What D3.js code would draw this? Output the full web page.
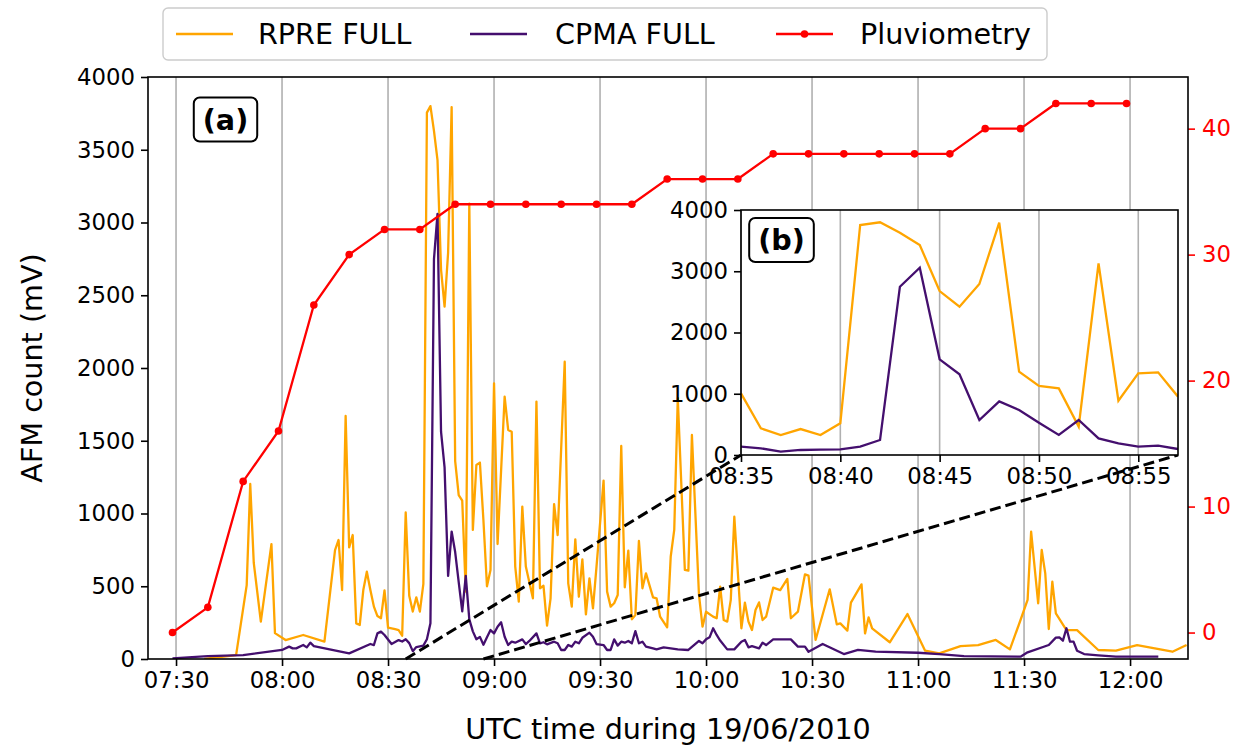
<!DOCTYPE html>
<html>
<head>
<meta charset="utf-8">
<script src="https://cdn.jsdelivr.net/npm/d3@7"></script>
<style>
html,body{margin:0;padding:0;background:#fff;}
svg{display:block;font-family:"DejaVu Sans",sans-serif;}
</style>
</head>
<body>
<svg id="chart" width="1252" height="747"></svg>
<script>
// ---------------- DATA ----------------
const rpreTimes = ["07:38","07:47","07:50","07:51","07:52","07:54","07:57","07:58","08:01","08:06","08:12","08:15","08:16","08:17","08:18","08:19","08:20","08:21","08:22","08:23","08:24","08:25","08:26","08:27","08:28","08:29","08:30","08:32","08:33","08:34","08:35","08:36","08:37","08:38","08:39","08:40","08:41","08:42","08:43","08:44","08:45","08:46","08:47","08:48","08:49","08:50","08:51","08:52","08:53","08:54","08:55","08:56","08:57","08:58","08:59","09:00","09:01","09:03","09:04","09:05","09:06","09:07","09:08","09:09","09:11","09:12","09:13","09:14","09:15","09:16","09:17","09:18","09:20","09:21","09:22","09:23","09:24","09:25","09:26","09:27","09:28","09:29","09:31","09:32","09:33","09:34","09:35","09:36","09:37","09:38","09:39","09:40","09:41","09:42","09:43","09:45","09:46","09:47","09:49","09:50","09:51","09:52","09:54","09:55","09:56","09:58","09:59","10:00","10:02","10:03","10:04","10:05","10:06","10:07","10:08","10:10","10:11","10:12","10:13","10:14","10:15","10:16","10:17","10:19","10:21","10:23","10:24","10:26","10:28","10:29","10:31","10:35","10:37","10:38","10:40","10:41","10:44","10:45","10:46","10:47","10:52","10:57","11:02","11:06","11:12","11:17","11:22","11:26","11:29","11:31","11:32","11:34","11:35","11:36","11:37","11:38","11:39","11:42","11:45","11:51","11:56","12:02","12:07","12:12","12:16"];
const rpreValues = [0,27,508,1203,660,257,790,178,130,165,119,749,818,474,1670,767,852,245,234,474,600,474,360,295,280,471,215,205,199,160,1007,435,326,424,326,517,3755,3800,3630,3428,2677,2422,2792,3793,1360,1127,1088,463,3129,887,1333,1350,952,500,612,1895,790,1803,1574,1562,635,394,1047,635,417,1769,486,503,229,417,1065,852,2043,520,360,822,428,685,307,554,348,635,1226,463,360,383,440,1464,493,745,273,302,811,486,589,424,417,291,218,703,887,1792,612,607,1540,440,222,325,291,280,497,268,257,406,978,211,387,257,199,337,389,268,291,490,474,550,280,325,582,573,131,479,238,245,195,387,513,176,286,211,115,309,57,39,89,96,131,66,268,406,875,383,749,589,206,531,314,199,199,62,57,96,73,50,96];

const cpmaTimes = ["07:29","07:39","07:49","08:00","08:02","08:03","08:04","08:06","08:07","08:08","08:09","08:19","08:25","08:26","08:27","08:28","08:29","08:31","08:33","08:34","08:35","08:36","08:37","08:38","08:39","08:40","08:41","08:42","08:43","08:44","08:45","08:46","08:47","08:48","08:49","08:50","08:51","08:52","08:53","08:54","08:55","08:56","08:57","08:58","08:59","09:00","09:01","09:02","09:03","09:04","09:05","09:06","09:08","09:09","09:10","09:12","09:13","09:14","09:15","09:17","09:18","09:19","09:20","09:21","09:22","09:23","09:24","09:25","09:27","09:28","09:29","09:31","09:32","09:33","09:34","09:35","09:36","09:37","09:38","09:39","09:40","09:41","09:42","09:43","09:45","09:46","09:48","09:52","09:55","09:58","09:59","10:00","10:01","10:02","10:03","10:04","10:06","10:08","10:10","10:11","10:12","10:13","10:15","10:16","10:17","10:19","10:24","10:26","10:28","10:29","10:33","10:39","10:43","10:48","11:00","11:06","11:13","11:29","11:31","11:37","11:39","11:40","11:41","11:42","11:43","11:44","11:45","11:47","11:51","11:56","12:08"];
const cpmaValues = [5,20,27,62,85,73,73,96,80,112,89,39,103,96,176,188,165,103,130,120,136,109,54,82,87,92,136,245,2748,3059,1562,1317,571,876,735,528,327,571,272,190,136,152,98,150,199,176,222,252,153,96,119,112,135,103,124,176,108,115,101,119,108,62,62,96,85,119,108,146,181,153,103,96,62,62,135,92,119,112,124,108,192,108,119,85,73,66,80,66,62,124,108,135,149,211,165,127,66,66,119,131,80,89,73,112,96,135,135,85,85,50,103,34,62,50,43,34,20,16,46,96,147,149,126,211,119,119,57,34,25,16,16];

const pluvioTimes = ["07:29","07:39","07:49","07:59","08:09","08:19","08:29","08:39","08:49","08:59","09:09","09:19","09:29","09:39","09:49","09:59","10:09","10:19","10:29","10:39","10:49","10:59","11:09","11:19","11:29","11:39","11:49","11:59"];
const pluvioValues = [0,2,12,16,26,30,32,32,34,34,34,34,34,34,36,36,36,38,38,38,38,38,38,40,40,42,42,42];

const mainTickLabels = ["07:30","08:00","08:30","09:00","09:30","10:00","10:30","11:00","11:30","12:00"];
const insetTickLabels = ["08:35","08:40","08:45","08:50","08:55"];
const leftTicks = [0,500,1000,1500,2000,2500,3000,3500,4000];
const rightTicks = [0,10,20,30,40];
const insetYTicks = [0,1000,2000,3000,4000];

const seriesNames = ["RPRE FULL","CPMA FULL","Pluviometry"];
const colors = {rpre:"#FFA500", cpma:"#440f6e", pluvio:"#FF0000"};

// ---------------- HELPERS ----------------
function T(s){
  const [h,m] = s.split(":").map(Number);
  return new Date(2010,5,19,h,m);
}
const zip = (ts, vs) => ts.map((t,i)=>({t:T(t), v:vs[i]}));
const rpre = zip(rpreTimes, rpreValues);
const cpma = zip(cpmaTimes, cpmaValues);
const pluvio = zip(pluvioTimes, pluvioValues);

const svg = d3.select("#chart");
const FT = 22.8, FL = 28.6;
const L=148, R=1188, TOP=77, B=659;

const x = d3.scaleTime().domain([new Date(2010,5,19,7,22,4), new Date(2010,5,19,12,16,24)]).range([L,R]);
const y = d3.scaleLinear().domain([0,4000]).range([B,TOP]);
const y2 = d3.scaleLinear().domain([-2.1,44.1]).range([B,TOP]);

const fmt = d3.timeFormat("%H:%M");
const nfmt = d3.format("d");

// clip
const defs = svg.append("defs");
defs.append("clipPath").attr("id","mainclip").append("rect").attr("x",L).attr("y",TOP).attr("width",R-L).attr("height",B-TOP);

// grid
svg.append("g").selectAll("line").data(mainTickLabels.map(s=>T(s))).join("line")
  .attr("x1",d=>x(d)).attr("x2",d=>x(d)).attr("y1",TOP).attr("y2",B)
  .attr("stroke","#b0b0b0").attr("stroke-width",1.6);

const line = d3.line().x(d=>x(d.t)).y(d=>y(d.v));
const gData = svg.append("g").attr("clip-path","url(#mainclip)");
gData.append("path").datum(rpre).attr("d",line).attr("fill","none").attr("stroke",colors.rpre).attr("stroke-width",2.3).attr("stroke-linejoin","round");
gData.append("path").datum(cpma).attr("d",line).attr("fill","none").attr("stroke",colors.cpma).attr("stroke-width",2.3).attr("stroke-linejoin","round");

// pluviometry (twin axis)
const line2 = d3.line().x(d=>x(d.t)).y(d=>y2(d.v));
svg.append("path").datum(pluvio).attr("d",line2).attr("fill","none").attr("stroke",colors.pluvio).attr("stroke-width",2.3);
svg.append("g").selectAll("circle").data(pluvio).join("circle")
  .attr("cx",d=>x(d.t)).attr("cy",d=>y2(d.v)).attr("r",3.8).attr("fill",colors.pluvio);

// axes
const xAxis = svg.append("g").attr("transform",`translate(0,${B})`)
  .call(d3.axisBottom(x).tickValues(mainTickLabels.map(s=>T(s))).tickFormat(fmt).tickSize(7).tickSizeOuter(0).tickPadding(6));
const yAxis = svg.append("g").attr("transform",`translate(${L},0)`)
  .call(d3.axisLeft(y).tickValues(leftTicks).tickFormat(nfmt).tickSize(7).tickSizeOuter(0).tickPadding(6));
const y2Axis = svg.append("g").attr("transform",`translate(${R},0)`)
  .call(d3.axisRight(y2).tickValues(rightTicks).tickFormat(nfmt).tickSize(7).tickSizeOuter(0).tickPadding(7));
[xAxis,yAxis,y2Axis].forEach(g=>{
  g.select(".domain").remove();
  g.selectAll(".tick line").attr("stroke-width",1.6);
  g.selectAll("text").attr("font-size",FT).attr("font-family","DejaVu Sans").attr("fill","#000");
});
y2Axis.selectAll(".tick line").attr("stroke",colors.pluvio);
y2Axis.selectAll("text").attr("fill",colors.pluvio);

// frame
svg.append("rect").attr("x",L).attr("y",TOP).attr("width",R-L).attr("height",B-TOP)
  .attr("fill","none").attr("stroke","#000").attr("stroke-width",1.6);

// axis labels
svg.append("text").attr("x",(L+R)/2).attr("y",739).attr("text-anchor","middle")
  .attr("font-size",FL).text("UTC time during 19/06/2010");
svg.append("text").attr("transform",`translate(42,${(TOP+B)/2}) rotate(-90)`).attr("text-anchor","middle")
  .attr("font-size",FL).text("AFM count (mV)");

// boxed labels
function boxLabel(cx, cy, txt){
  const g = svg.append("g");
  const t = g.append("text").attr("x",cx).attr("y",cy).attr("text-anchor","middle").attr("dominant-baseline","central")
    .attr("font-size",FL).attr("font-weight","bold").text(txt);
  const bb = t.node().getBBox();
  g.insert("rect","text").attr("x",bb.x-9).attr("y",cy-22).attr("width",bb.width+18).attr("height",44)
    .attr("rx",6).attr("fill","#fff").attr("stroke","#000").attr("stroke-width",2);
}
boxLabel(225.5, 119.5, "(a)");

// ---------------- INSET ----------------
const IL=741, IR=1178, IT=210, IB=455;
const t0 = T("08:35"), t1 = T("08:57");
const ix = d3.scaleTime().domain([t0,t1]).range([IL,IR]);
const iy = d3.scaleLinear().domain([0,4000]).range([IB,IT]);

// connector lines
const conn = svg.append("g");
conn.append("line").attr("x1",x(t0)).attr("y1",y(0)).attr("x2",IL).attr("y2",IB);
conn.append("line").attr("x1",x(t1)).attr("y1",y(0)).attr("x2",IR).attr("y2",IB);
conn.selectAll("line").attr("stroke","#000").attr("stroke-width",3).attr("stroke-dasharray","11,5");

defs.append("clipPath").attr("id","insetclip").append("rect").attr("x",IL).attr("y",IT).attr("width",IR-IL).attr("height",IB-IT);
svg.append("rect").attr("x",IL).attr("y",IT).attr("width",IR-IL).attr("height",IB-IT).attr("fill","#fff");
svg.append("g").selectAll("line").data(insetTickLabels.map(s=>T(s))).join("line")
  .attr("x1",d=>ix(d)).attr("x2",d=>ix(d)).attr("y1",IT).attr("y2",IB)
  .attr("stroke","#b0b0b0").attr("stroke-width",1.6);
const iline = d3.line().x(d=>ix(d.t)).y(d=>iy(d.v));
const inRange = d => d.t >= t0 && d.t <= t1;
const gi = svg.append("g").attr("clip-path","url(#insetclip)");
gi.append("path").datum(rpre.filter(inRange)).attr("d",iline).attr("fill","none").attr("stroke",colors.rpre).attr("stroke-width",2.3);
gi.append("path").datum(cpma.filter(inRange)).attr("d",iline).attr("fill","none").attr("stroke",colors.cpma).attr("stroke-width",2.3);

const ixAxis = svg.append("g").attr("transform",`translate(0,${IB})`)
  .call(d3.axisBottom(ix).tickValues(insetTickLabels.map(s=>T(s))).tickFormat(fmt).tickSize(7).tickSizeOuter(0).tickPadding(6));
const iyAxis = svg.append("g").attr("transform",`translate(${IL},0)`)
  .call(d3.axisLeft(iy).tickValues(insetYTicks).tickFormat(nfmt).tickSize(7).tickSizeOuter(0).tickPadding(6));
[ixAxis,iyAxis].forEach(g=>{
  g.select(".domain").remove();
  g.selectAll(".tick line").attr("stroke-width",1.6);
  g.selectAll("text").attr("font-size",FT).attr("font-family","DejaVu Sans").attr("fill","#000");
});
svg.append("rect").attr("x",IL).attr("y",IT).attr("width",IR-IL).attr("height",IB-IT)
  .attr("fill","none").attr("stroke","#000").attr("stroke-width",1.6);
boxLabel(781.5, 240, "(b)");

// ---------------- LEGEND ----------------
const lg = svg.append("g");
lg.append("rect").attr("x",163).attr("y",8).attr("width",884).attr("height",52).attr("rx",5)
  .attr("fill","#fff").attr("fill-opacity",0.8).attr("stroke","#cccccc").attr("stroke-width",1.4);
const legendItems = [
  {name:seriesNames[0], color:colors.rpre, x0:176, tx:258, marker:false},
  {name:seriesNames[1], color:colors.cpma, x0:470, tx:555, marker:false},
  {name:seriesNames[2], color:colors.pluvio, x0:776, tx:860, marker:true}
];
legendItems.forEach(it=>{
  lg.append("line").attr("x1",it.x0).attr("x2",it.x0+57).attr("y1",34).attr("y2",34)
    .attr("stroke",it.color).attr("stroke-width",2.3);
  if(it.marker) lg.append("circle").attr("cx",it.x0+28.5).attr("cy",34).attr("r",3.8).attr("fill",it.color);
  lg.append("text").attr("x",it.tx).attr("y",34).attr("dominant-baseline","central")
    .attr("font-size",FL).text(it.name);
});
</script>
</body>
</html>
